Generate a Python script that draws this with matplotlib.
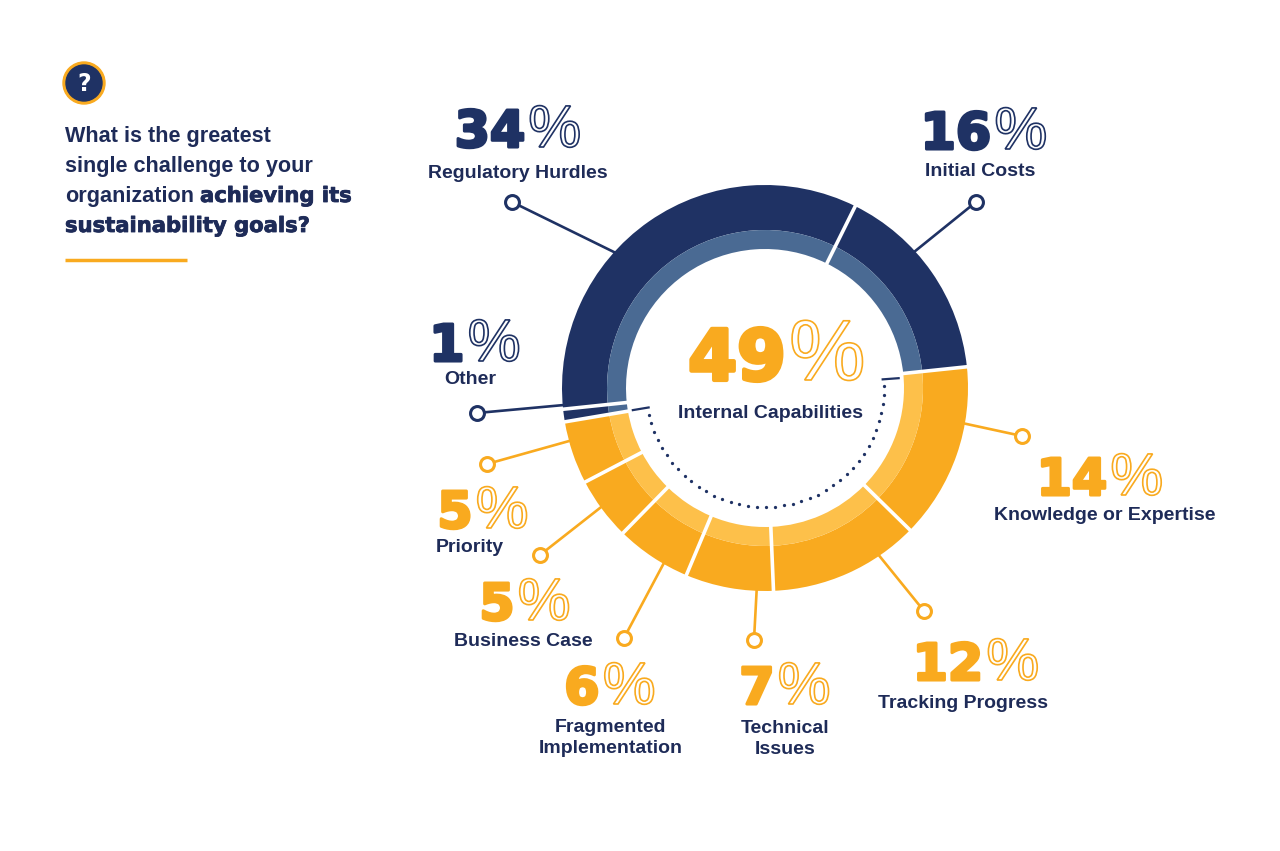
import matplotlib
matplotlib.use("Agg")
import matplotlib.pyplot as plt
import matplotlib.patheffects as pe
from matplotlib.patches import Circle
import numpy as np

W, H = 1280, 851
NAVY = "#1f3264"
NAVY_LIGHT = "#4a6a93"
ORANGE = "#f9aa1f"
ORANGE_LIGHT = "#fdc04a"
TEXT = "#1e2b58"

# survey answers, clockwise from the top-right boundary
categories = ["Initial Costs", "Knowledge or Expertise", "Tracking Progress",
              "Technical\nIssues", "Fragmented\nImplementation", "Business Case",
              "Priority", "Other", "Regulatory Hurdles"]
shares = [16, 14, 12, 7, 6, 5, 5, 1, 34]
internal = [False, True, True, True, True, True, True, False, False]
internal_label = "Internal Capabilities"

question = [("What is the greatest", ""),
            ("single challenge to your", ""),
            ("organization", "achieving its"),
            ("", "sustainability goals?")]

# layout in pixels from the top-left corner:
# number centre x, number baseline, label centre x, label centre y,
# marker x, marker y, angle where the leader meets the ring
layout = [
    (984, 148, 980, 172, 976, 202, 42.7),
    (1100, 494, 1105, 515, 1022, 436, -9.9),
    (976, 679, 963, 703, 924, 611, -56.2),
    (785, 703, 785, 739, 754, 640, -92.3),
    (610, 703, 611, 738, 624, 638, -120.2),
    (525, 619, 523, 641, 540, 555, -144.2),
    (483, 527, 470, 548, 487, 464, -164.9),
    (475, 360, 470, 380, 477, 413, -175.2),
    (518, 146, 518, 173, 512, 202, 136.4),
]

CX, CY = 765, 388
R_OUT, R_MID, R_IN = 203, 158, 139
START = 63.6


def Y(v):
    return H - v


fig = plt.figure(figsize=(12.8, 8.51), dpi=100)
ax = fig.add_axes([0, 0, 1, 1])
renderer = fig.canvas.get_renderer()

dark = [ORANGE if i else NAVY for i in internal]
light = [ORANGE_LIGHT if i else NAVY_LIGHT for i in internal]

ax.pie(shares, startangle=START, counterclock=False, radius=R_OUT,
       center=(CX, Y(CY)), colors=dark,
       wedgeprops=dict(width=R_OUT - R_MID, edgecolor="none", zorder=3))
ax.pie(shares, startangle=START, counterclock=False, radius=R_MID,
       center=(CX, Y(CY)), colors=light,
       wedgeprops=dict(width=R_MID - R_IN, edgecolor="none", zorder=3))

# white gaps between slices
bounds = START - 3.6 * np.concatenate([[0], np.cumsum(shares)])
for a in bounds[:-1]:
    t = np.radians(a)
    ax.plot([CX + (R_IN - 3) * np.cos(t), CX + (R_OUT + 3) * np.cos(t)],
            [Y(CY) + (R_IN - 3) * np.sin(t), Y(CY) + (R_OUT + 3) * np.sin(t)],
            color="white", lw=2.6, zorder=4, solid_capstyle="butt")

# dotted arc under the internal slices
r_dot = 119
ang = np.radians(np.linspace(193, 361, 40))
ax.scatter(CX + r_dot * np.cos(ang), Y(CY) + r_dot * np.sin(ang),
           s=5.5, color=NAVY, zorder=4, linewidths=0)
for a in (189.5, 4.2):
    t = np.radians(a)
    ax.plot([CX + 118 * np.cos(t), CX + 134 * np.cos(t)],
            [Y(CY) + 118 * np.sin(t), Y(CY) + 134 * np.sin(t)],
            color=NAVY, lw=1.6, zorder=4)


def pct(xc, base, num, color, nsize, psize, sw):
    t1 = ax.text(0, Y(base), str(num), fontsize=nsize, fontweight="bold",
                 family="DejaVu Sans", color=color, ha="left", va="baseline",
                 path_effects=[pe.withStroke(linewidth=sw, foreground=color)], zorder=6)
    t2 = ax.text(0, Y(base), "%", fontsize=psize, family="Liberation Sans",
                 color=color, ha="left", va="baseline", zorder=6,
                 path_effects=[pe.PathPatchEffect(edgecolor=color, facecolor="white",
                                                  linewidth=1.2)])
    w1 = t1.get_window_extent(renderer).width
    w2 = t2.get_window_extent(renderer).width
    gap = 3
    left = xc - (w1 + gap + w2) / 2
    t1.set_x(left)
    t2.set_x(left + w1 + gap)


for cat, val, inn, lay in zip(categories, shares, internal, layout):
    nx, nb, lx, ly, mx, my, ca = lay
    col = ORANGE if inn else NAVY
    t = np.radians(ca)
    px, py = CX + 185 * np.cos(t), Y(CY) + 185 * np.sin(t)
    ax.plot([mx, px], [Y(my), py], color=col, lw=1.9, zorder=2)
    ax.plot([mx], [Y(my)], marker="o", ms=10, mfc="white", mec=col, mew=2.2, zorder=5)
    pct(nx, nb + 1, val, col, 36.5, 43, 2.2)
    ax.text(lx, Y(ly), cat, fontsize=14, fontweight="bold", family="Liberation Sans",
            color=TEXT, ha="center", va="center", linespacing=1.3, zorder=6)

# centre figure
total_internal = sum(v for v, i in zip(shares, internal) if i)
pct(777, 380, total_internal, ORANGE, 50.5, 62, 3)
ax.text(771, Y(414), internal_label, fontsize=14, fontweight="bold",
        family="Liberation Sans", color=TEXT, ha="center", va="center", zorder=6)

# question icon
ax.add_patch(Circle((84, Y(83)), 21, color=ORANGE, zorder=3))
ax.add_patch(Circle((84, Y(83)), 18, color=NAVY, zorder=4))
ax.text(84, Y(84), "?", fontsize=17, fontweight="bold", family="DejaVu Sans",
        color="white", ha="center", va="center", zorder=5)

# question text
for k, (plain, heavy) in enumerate(question):
    base = Y(142 + 30 * k)
    x = 65
    if plain:
        t = ax.text(x, base, plain, fontsize=15.6, fontweight="bold",
                    family="Liberation Sans", color=TEXT, ha="left", va="baseline")
        x += t.get_window_extent(renderer).width + 6
    if heavy:
        ax.text(x, base, heavy, fontsize=15.2, fontweight="bold",
                family="DejaVu Sans", color=TEXT, ha="left", va="baseline",
                path_effects=[pe.withStroke(linewidth=0.6, foreground=TEXT)])

ax.plot([65, 187], [Y(260), Y(260)], color=ORANGE, lw=2.5, solid_capstyle="butt")

ax.set_xlim(0, W)
ax.set_ylim(0, H)
ax.set_aspect("auto")
ax.axis("off")
fig.savefig("out.png", dpi=100, facecolor="white")
